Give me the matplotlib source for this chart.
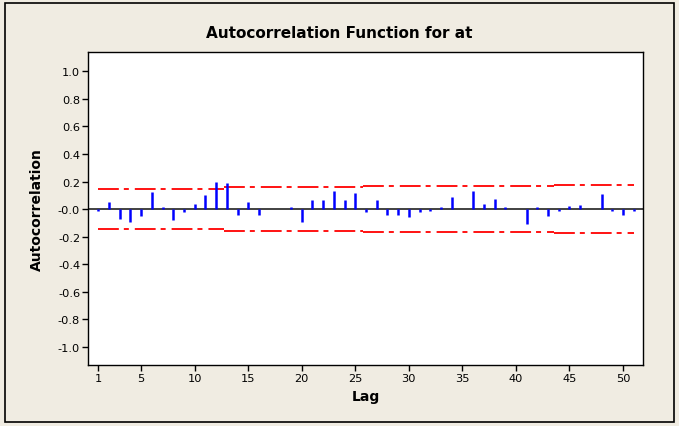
import numpy as np
import matplotlib.pyplot as plt
from matplotlib.patches import Rectangle

# valores de autocorrelacion (lags 1..51)
lags = np.arange(1, 52)
acf = [-0.010, 0.053, -0.068, -0.090, -0.053, 0.126, 0.017, -0.082, -0.019, 0.039,
       0.104, 0.198, 0.191, -0.039, 0.053, -0.046, 0.003, 0.002, 0.017, -0.090,
       0.068, 0.068, 0.133, 0.068, 0.118, -0.019, 0.068, -0.046, -0.046, -0.056,
       -0.024, -0.010, 0.017, 0.090, 0.002, 0.133, 0.039, 0.075, 0.017, -0.002,
       -0.111, 0.017, -0.053, -0.010, 0.024, 0.031, 0.002, 0.111, -0.017, -0.046,
       -0.010]

# limites de significancia (escalones)
band_breaks = [1, 12.7, 25.7, 43.6, 51]
band_levels = [0.145, 0.158, 0.166, 0.174]

x_ticks = [1, 5, 10, 15, 20, 25, 30, 35, 40, 45, 50]
y_ticks = np.round(np.arange(-1.0, 1.01, 0.2), 1)

plt.rcParams['lines.scale_dashes'] = False
bg = '#F0ECE2'

fig = plt.figure(figsize=(6.79, 4.27), dpi=100, facecolor=bg)
ax = fig.add_axes([0.1303, 0.143, 0.8167, 0.733])

ax.axhline(0, color='#333333', lw=1.3, zorder=2)
ax.vlines(lags, 0, acf, color='#0000FF', lw=1.8, zorder=3)

for i, lev in enumerate(band_levels):
    xs = [band_breaks[i], band_breaks[i + 1]]
    for s in (1, -1):
        ax.plot(xs, [s * lev, s * lev], color='#FF0000', lw=1.3,
                dashes=(15, 3.6, 3.6, 4.3), zorder=2)

ax.set_xlim(0.08, 51.87)
ax.set_ylim(-1.13, 1.14)
ax.set_xticks(x_ticks)
ax.set_yticks(y_ticks)
ax.set_yticklabels(['%.1f' % v for v in y_ticks])
ax.tick_params(direction='out', length=4, width=1, labelsize=8.2, pad=2)
for sp in ax.spines.values():
    sp.set_linewidth(1)

ax.set_xlabel('Lag', fontsize=10, fontweight='bold', labelpad=4)
ax.set_ylabel('Autocorrelation', fontsize=10, fontweight='bold', labelpad=10)
fig.text(0.5, 0.922, 'Autocorrelation Function for at', ha='center', va='center',
         fontsize=11, fontweight='bold')

fig.patches.append(Rectangle((5 / 679, 4 / 427), 669 / 679, 419 / 427,
                             transform=fig.transFigure, fill=False,
                             edgecolor='black', lw=1.2))

plt.savefig('out.png', dpi=100, facecolor=bg)
